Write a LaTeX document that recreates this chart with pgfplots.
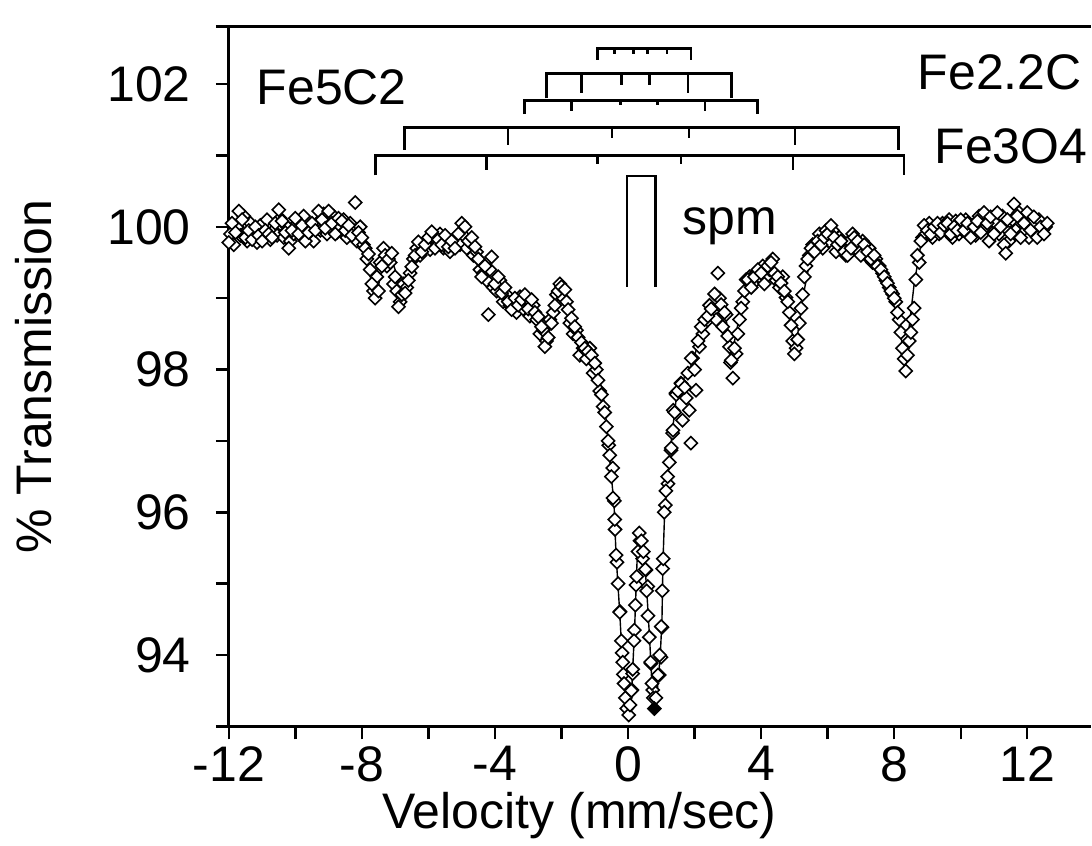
\documentclass[border=0pt]{standalone}
\usepackage{fontspec}
\setmainfont{Liberation Sans}
\usepackage{pgfplots}
\pgfplotsset{compat=1.18}

\pgfplotstableread{
x y
-12.0 99.78
-11.9 100.05
-11.8 99.92
-11.7 100.22
-11.6 100.1
-11.5 99.85
-11.4 99.95
-11.3 99.82
-11.2 100.0
-11.1 99.88
-11.0 99.8
-10.9 99.95
-10.8 99.9
-10.7 99.85
-10.6 100.05
-10.5 100.24
-10.4 100.08
-10.3 99.92
-10.2 99.7
-10.1 99.95
-10.0 100.12
-9.9 99.9
-9.8 100.02
-9.7 99.8
-9.6 99.92
-9.5 100.05
-9.4 99.95
-9.3 100.22
-9.2 100.1
-9.1 99.98
-9.0 100.22
-8.9 100.05
-8.8 99.9
-8.7 100.12
-8.6 100.08
-8.5 99.95
-8.4 100.02
-8.3 99.88
-8.2 100.34
-8.1 99.92
-8.0 99.85
-7.9 99.7
-7.8 99.62
-7.7 99.2
-7.6 99.0
-7.5 99.1
-7.4 99.45
-7.3 99.6
-7.2 99.55
-7.1 99.63
-7.0 99.3
-6.9 98.88
-6.8 99.05
-6.7 99.07
-6.6 99.25
-6.5 99.44
-6.4 99.6
-6.3 99.79
-6.2 99.65
-6.1 99.75
-6.0 99.85
-5.9 99.93
-5.8 99.7
-5.7 99.82
-5.6 99.75
-5.5 99.88
-5.4 99.72
-5.3 99.8
-5.2 99.7
-5.1 99.9
-5.0 100.05
-4.9 100.0
-4.8 99.8
-4.7 99.85
-4.6 99.72
-4.5 99.55
-4.4 99.3
-4.3 99.45
-4.2 98.77
-4.1 99.58
-4.0 99.2
-3.9 99.3
-3.8 99.07
-3.7 99.15
-3.6 98.95
-3.5 98.84
-3.4 99.0
-3.3 98.9
-3.2 98.98
-3.1 99.05
-3.0 98.85
-2.9 98.98
-2.8 98.8
-2.7 98.74
-2.6 98.6
-2.5 98.32
-2.4 98.45
-2.3 98.65
-2.2 98.9
-2.1 99.1
-2.0 99.16
-1.9 99.12
-1.8 98.84
-1.7 98.72
-1.6 98.6
-1.5 98.45
-1.4 98.38
-1.3 98.3
-1.2 98.25
-1.1 98.2
-1.0 98.09
-0.9 97.85
-0.8 97.65
-0.7 97.4
-0.6 97.0
-0.55 96.8
-0.5 96.5
-0.45 96.2
-0.4 95.9
-0.36 95.4
-0.3 95.0
-0.25 94.6
-0.2 94.2
-0.16 93.9
-0.12 93.6
-0.08 93.4
-0.04 93.25
0.02 93.16
0.06 93.3
0.1 93.5
0.14 93.8
0.18 94.2
0.22 94.7
0.26 95.1
0.3 95.45
0.34 95.71
0.4 95.6
0.46 95.45
0.52 95.2
0.56 94.9
0.6 94.55
0.64 94.25
0.68 93.9
0.72 93.6
0.76 93.4
0.84 93.4
0.9 93.72
0.95 94.0
1.0 94.4
1.03 94.9
1.06 95.35
1.09 96.0
1.14 96.3
1.19 96.5
1.24 96.7
1.3 96.9
1.35 97.15
1.4 97.4
1.45 97.65
1.5 97.7
1.6 97.8
1.7 97.75
1.8 97.95
1.9 98.16
2.0 98.0
2.1 98.4
2.2 98.6
2.3 98.7
2.4 98.75
2.5 98.85
2.6 99.06
2.7 99.35
2.8 98.91
2.9 98.8
3.0 98.47
3.1 98.13
3.15 97.88
3.2 98.3
3.3 98.5
3.4 98.86
3.5 99.1
3.6 99.26
3.7 99.15
3.8 99.3
3.9 99.4
4.0 99.35
4.1 99.2
4.2 99.45
4.3 99.5
4.4 99.35
4.5 99.3
4.6 99.21
4.7 99.1
4.8 98.95
4.9 98.62
5.0 98.22
5.1 98.42
5.2 98.86
5.3 99.3
5.4 99.55
5.5 99.7
5.6 99.65
5.7 99.8
5.8 99.75
5.9 99.85
6.0 99.9
6.1 100.02
6.2 99.85
6.3 99.75
6.4 99.8
6.5 99.65
6.6 99.6
6.7 99.7
6.8 99.85
6.9 99.8
7.0 99.6
7.1 99.75
7.2 99.65
7.3 99.55
7.4 99.6
7.5 99.45
7.6 99.4
7.7 99.3
7.8 99.21
7.9 99.1
8.0 99.0
8.1 98.8
8.2 98.52
8.3 98.15
8.35 97.98
8.4 98.2
8.5 98.52
8.6 98.86
8.65 99.26
8.7 99.6
8.8 99.8
8.9 100.02
9.0 99.95
9.1 99.9
9.2 100.0
9.3 100.05
9.4 99.92
9.5 100.02
9.6 100.05
9.7 99.9
9.8 100.0
9.9 99.95
10.0 100.1
10.1 99.95
10.2 100.05
10.3 99.85
10.4 100.0
10.5 100.08
10.6 99.92
10.7 100.2
10.8 100.05
10.9 100.14
11.0 99.9
11.1 100.2
11.2 100.0
11.3 99.75
11.35 99.63
11.4 100.1
11.5 99.9
11.6 100.32
11.7 100.15
11.8 99.85
11.9 100.05
12.0 100.2
12.1 99.95
12.2 100.14
12.3 99.85
12.4 100.0
12.5 99.9
12.6 100.05
}\dataA

\pgfplotstableread{
x y
-11.95 99.9
-11.85 99.75
-11.75 100.0
-11.65 99.88
-11.55 100.15
-11.45 99.8
-11.35 100.05
-11.25 99.9
-11.15 99.78
-11.05 100.02
-10.95 99.85
-10.85 100.1
-10.75 99.82
-10.65 99.95
-10.55 99.88
-10.45 100.12
-10.35 99.85
-10.25 100.0
-10.15 99.8
-10.05 99.9
-9.95 100.05
-9.85 99.95
-9.75 100.15
-9.65 99.88
-9.55 100.0
-9.45 99.8
-9.35 100.05
-9.25 99.95
-9.15 100.18
-9.05 99.9
-8.95 99.98
-8.85 100.15
-8.75 99.92
-8.65 100.0
-8.55 100.1
-8.45 99.85
-8.35 100.05
-8.25 99.95
-8.15 99.8
-8.05 100.0
-7.95 99.75
-7.85 99.55
-7.75 99.4
-7.65 99.1
-7.55 99.3
-7.45 99.5
-7.35 99.7
-7.25 99.45
-7.15 99.5
-7.05 99.2
-6.95 99.1
-6.85 98.95
-6.75 99.2
-6.65 99.15
-6.55 99.35
-6.45 99.55
-6.35 99.7
-6.25 99.6
-6.15 99.7
-6.05 99.78
-5.95 99.68
-5.85 99.85
-5.75 99.75
-5.65 99.9
-5.55 99.7
-5.45 99.82
-5.35 99.65
-5.25 99.75
-5.15 99.85
-5.05 99.75
-4.95 99.88
-4.85 99.7
-4.75 99.78
-4.65 99.6
-4.55 99.65
-4.45 99.4
-4.35 99.35
-4.25 99.25
-4.15 99.4
-4.05 99.15
-3.95 99.1
-3.85 99.25
-3.75 98.95
-3.65 99.05
-3.55 98.9
-3.45 98.95
-3.35 98.8
-3.25 99.02
-3.15 98.85
-3.05 99.0
-2.95 98.75
-2.85 98.9
-2.75 98.7
-2.65 98.5
-2.55 98.55
-2.45 98.4
-2.35 98.7
-2.25 98.8
-2.15 99.05
-2.05 99.2
-1.95 99.0
-1.85 98.95
-1.75 98.65
-1.65 98.5
-1.55 98.55
-1.45 98.2
-1.35 98.3
-1.25 98.15
-1.15 98.3
-1.05 97.95
-0.95 98.0
-0.85 97.7
-0.75 97.48
-0.65 97.2
-0.58 96.94
-0.46 96.62
-0.41 96.16
-0.39 95.76
-0.33 95.3
-0.24 94.61
-0.18 94.03
-0.14 93.73
0.12 93.51
0.14 93.74
0.19 94.35
0.24 94.98
0.36 95.6
0.44 95.35
0.54 95.19
0.59 94.96
0.69 93.88
0.74 93.51
0.94 93.72
0.99 93.97
1.02 94.39
1.04 95.21
1.12 96.1
1.2 96.4
1.29 96.87
1.34 97.11
1.36 97.43
1.44 97.67
1.59 97.81
1.64 97.29
1.75 97.6
1.84 97.43
1.89 96.97
1.94 98.16
2.04 97.71
2.15 98.32
2.25 98.5
2.35 98.67
2.45 98.9
2.55 98.81
2.65 98.7
2.75 99.0
2.85 98.6
2.95 98.77
3.05 98.32
3.08 98.1
3.25 98.22
3.35 98.7
3.45 98.95
3.55 99.26
3.65 99.3
3.75 99.2
3.85 99.35
3.95 99.3
4.05 99.45
4.15 99.3
4.25 99.4
4.35 99.55
4.45 99.25
4.55 99.15
4.65 99.3
4.75 99.01
4.85 98.8
4.95 98.4
5.05 98.3
5.15 98.65
5.25 99.05
5.35 99.45
5.45 99.6
5.55 99.75
5.65 99.7
5.75 99.9
5.85 99.7
5.95 99.95
6.05 99.8
6.15 99.95
6.25 99.65
6.35 99.85
6.45 99.7
6.55 99.6
6.65 99.8
6.75 99.9
6.85 99.75
6.95 99.65
7.05 99.8
7.15 99.6
7.25 99.7
7.35 99.5
7.45 99.55
7.55 99.45
7.65 99.35
7.75 99.25
7.85 99.15
7.95 99.06
8.05 98.95
8.15 98.7
8.25 98.3
8.45 98.4
8.55 98.7
8.75 99.5
8.85 99.85
8.95 99.9
9.05 100.05
9.15 99.85
9.25 99.95
9.35 99.9
9.45 100.05
9.55 99.95
9.65 100.1
9.75 99.85
9.85 100.08
9.95 99.9
10.05 99.95
10.15 100.1
10.25 99.9
10.35 100.02
10.45 99.88
10.55 100.15
10.65 99.95
10.75 100.0
10.85 99.8
10.95 100.1
11.05 100.05
11.15 99.9
11.25 100.15
11.45 99.8
11.55 100.1
11.65 99.95
11.75 100.2
11.85 99.9
11.95 100.1
12.05 99.85
12.15 100.05
12.25 99.9
12.35 100.1
12.45 99.95
12.55 100.0
}\dataB

\pgfplotstableread{
x y
-12.0 99.95
-11.0 99.95
-10.0 99.97
-9.0 100.0
-8.5 99.97
-8.0 99.85
-7.8 99.65
-7.65 99.25
-7.55 99.05
-7.45 99.3
-7.3 99.55
-7.15 99.6
-7.0 99.4
-6.88 99.05
-6.75 99.0
-6.6 99.2
-6.4 99.5
-6.1 99.7
-5.5 99.78
-5.0 99.8
-4.6 99.7
-4.4 99.5
-4.2 99.3
-4.0 99.2
-3.7 99.05
-3.3 98.95
-3.0 98.9
-2.7 98.8
-2.5 98.45
-2.35 98.6
-2.15 99.0
-2.0 99.15
-1.85 99.05
-1.7 98.8
-1.5 98.55
-1.2 98.3
-1.0 98.1
-0.85 97.85
-0.7 97.5
-0.6 97.0
-0.5 96.5
-0.42 96.1
-0.36 95.4
-0.25 94.6
-0.18 94.0
-0.1 93.5
-0.02 93.2
0.05 93.3
0.12 93.6
0.2 94.4
0.27 95.3
0.34 95.65
0.45 95.5
0.55 95.0
0.64 94.3
0.72 93.6
0.79 93.25
0.88 93.5
0.97 94.0
1.02 94.5
1.05 95.3
1.1 96.0
1.2 96.5
1.3 97.0
1.45 97.6
1.7 97.9
1.95 98.1
2.2 98.55
2.5 98.85
2.75 98.95
2.95 98.7
3.1 98.2
3.25 98.5
3.4 98.9
3.7 99.2
4.0 99.35
4.4 99.4
4.7 99.1
4.9 98.6
5.0 98.3
5.1 98.5
5.25 99.0
5.5 99.6
6.0 99.85
6.5 99.8
7.0 99.75
7.5 99.5
7.9 99.15
8.1 98.8
8.3 98.15
8.45 98.6
8.6 99.2
8.8 99.75
9.2 99.95
10.0 100.0
11.0 100.0
12.0 100.0
12.6 99.95
}\fitline

\begin{document}
\begin{tikzpicture}
\begin{axis}[
  scale only axis,
  width=431.2pt, height=350pt,
  xmin=-12, xmax=13.9, ymin=93, ymax=102.8,
  clip=false,
  axis x line*=bottom, axis y line*=left,
  axis line style={line width=1.5pt, black},
  xtick={-12,-8,-4,0,4,8,12},
  xticklabels={-12,-8,-4,0,4,8,12},
  minor xtick={-10,-6,-2,2,6,10},
  ytick={94,96,98,100,102},
  yticklabels={94,96,98,100,102},
  minor ytick={93,95,97,99,101},
  tick align=outside,
  major tick length=6.5pt, minor tick length=6.5pt,
  every tick/.style={line width=1.2pt, black},
  tick label style={font=\fontsize{25}{30}\selectfont},
  yticklabel style={xshift=-9pt},
  xlabel={Velocity (mm/sec)},
  ylabel={\% Transmission},
  label style={font=\fontsize{25}{30}\selectfont},
  xlabel style={at={(axis description cs:0.407,-0.127)}, anchor=center},
  ylabel style={at={(axis description cs:-0.227,0.5)}, anchor=center},
]
% invisible frame giving the picture its proportions
\path (rel axis cs:-0.2655,-0.167) rectangle (rel axis cs:1,1.0386);
\draw[line width=1.5pt] (rel axis cs:-0.015,1) -- (rel axis cs:1,1);

\addplot[only marks, mark=square*, mark size=2.3pt,
  mark options={rotate=45, fill=white, draw=black, line width=0.8pt}]
  table[x=x,y=y] {\dataB};
\addplot[only marks, mark=square*, mark size=2.3pt,
  mark options={rotate=45, fill=white, draw=black, line width=0.8pt}]
  table[x=x,y=y] {\dataA};
\addplot[only marks, mark=square*, mark size=2.3pt,
  mark options={rotate=45, fill=black, draw=black, line width=0.8pt}]
  coordinates {(0.79,93.25)};
\addplot[no marks, black, line width=0.7pt] table[x=x,y=y] {\fitline};

% stick diagrams
\begin{scope}[line width=1.2pt]
\draw (axis cs:-0.92,102.34) |- (axis cs:1.90,102.50) -- (axis cs:1.90,102.34);
\draw (axis cs:-0.41,102.50) -- (axis cs:-0.41,102.42);
\draw (axis cs:0.16,102.50) -- (axis cs:0.16,102.42);
\draw (axis cs:0.58,102.50) -- (axis cs:0.58,102.42);
\draw (axis cs:1.18,102.50) -- (axis cs:1.18,102.42);
\draw (axis cs:-2.45,101.80) |- (axis cs:3.11,102.15) -- (axis cs:3.11,101.80);
\draw (axis cs:-1.40,102.15) -- (axis cs:-1.40,101.87);
\draw (axis cs:-0.20,102.15) -- (axis cs:-0.20,101.99);
\draw (axis cs:0.64,102.15) -- (axis cs:0.64,101.99);
\draw (axis cs:1.81,102.15) -- (axis cs:1.81,101.87);
\draw (axis cs:-3.11,101.58) |- (axis cs:3.89,101.77) -- (axis cs:3.89,101.58);
\draw (axis cs:-1.70,101.77) -- (axis cs:-1.70,101.62);
\draw (axis cs:-0.23,101.77) -- (axis cs:-0.23,101.71);
\draw (axis cs:0.88,101.77) -- (axis cs:0.88,101.71);
\draw (axis cs:2.32,101.77) -- (axis cs:2.32,101.62);
\draw (axis cs:-6.72,101.08) |- (axis cs:8.13,101.39) -- (axis cs:8.13,101.08);
\draw (axis cs:-3.60,101.39) -- (axis cs:-3.60,101.15);
\draw (axis cs:-0.48,101.39) -- (axis cs:-0.48,101.25);
\draw (axis cs:1.83,101.39) -- (axis cs:1.83,101.25);
\draw (axis cs:5.01,101.39) -- (axis cs:5.01,101.15);
\draw (axis cs:-7.59,100.72) |- (axis cs:8.29,101.00) -- (axis cs:8.29,100.72);
\draw (axis cs:-4.25,101.00) -- (axis cs:-4.25,100.80);
\draw (axis cs:-0.92,101.00) -- (axis cs:-0.92,100.88);
\draw (axis cs:1.60,101.00) -- (axis cs:1.60,100.88);
\draw (axis cs:4.96,101.00) -- (axis cs:4.96,100.80);
\draw (axis cs:-0.04,99.16) |- (axis cs:0.82,100.71) -- (axis cs:0.82,99.16);
\end{scope}

\begin{scope}[every node/.style={inner sep=0pt, anchor=base west, font=\fontsize{25}{30}\selectfont}]
\node at (axis cs:-11.17,101.71) {Fe5C2};
\node at (axis cs:8.70,101.92) {Fe2.2C};
\node at (axis cs:9.20,100.89) {Fe3O4};
\node at (axis cs:1.63,99.89) {spm};
\end{scope}
\end{axis}
\end{tikzpicture}
\end{document}
